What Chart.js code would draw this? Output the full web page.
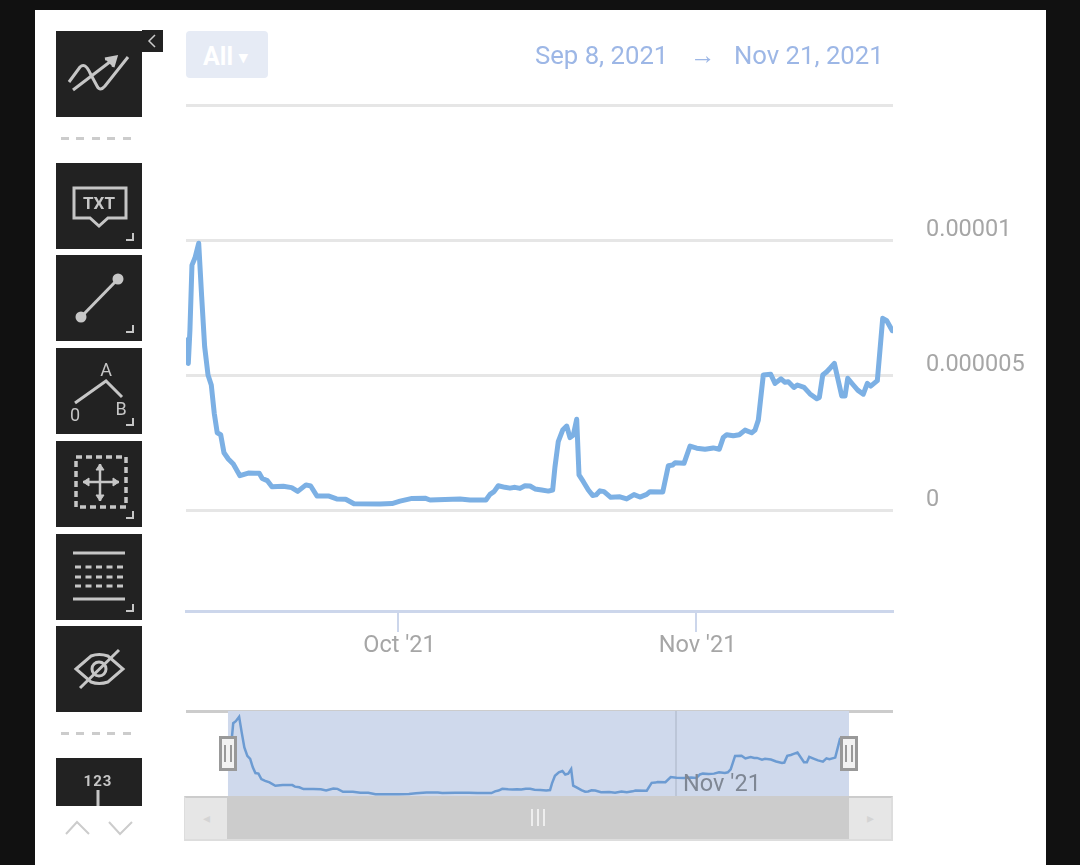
<!DOCTYPE html>
<html lang="en">
<head>
  <meta charset="UTF-8">
  <title>Price chart</title>
  <script src="https://cdn.jsdelivr.net/npm/chart.js"></script>
  <style>
    html, body { margin: 0; height: 865px; overflow: hidden; background: #111; font-family: Roboto, Arial, sans-serif; }
    #panel { position: absolute; left: 35px; top: 10px; width: 1011px; height: 855px; background: #fff; }
    canvas { position: absolute; left: 0; }
    #mainChart { top: 0; }
    #navChart { top: 700px; }
    .abs { position: absolute; }
    .tool { position: absolute; left: 56px; width: 86px; height: 86px; background: #222; display: block; }
    .tool * { fill: none; stroke: #c6c6c6; stroke-width: 3; }
    .tool text { fill: #c6c6c6; stroke: none; font-family: Roboto, Arial, sans-serif; text-anchor: middle; }
    .sep { position: absolute; left: 61px; width: 70px; height: 3px; background: repeating-linear-gradient(90deg, #ccc 0 8px, transparent 8px 15.4px); }
    #allBtn { left: 186px; top: 31px; width: 82px; height: 47px; background: #e6ebf5; border-radius: 4px; color: #fff; font-weight: 700; font-size: 25px; line-height: 52px; text-indent: 17px; }
    #allBtn span { font-size: 17px; vertical-align: 2px; }
    .dateTxt { top: 40px; color: #9db7e6; font-size: 25.7px; line-height: 30px; }
    .handle { top: 736px; width: 12px; height: 29px; background: #f2f2f2; border: 3px solid #999; }
    .handle i { position: absolute; top: 6px; width: 2px; height: 17px; background: #999; }
    #scrollTrack { left: 184px; top: 796px; width: 705px; height: 41px; background: #ccc; border: 2px solid #ddd; border-top-color: #ccc; }
    .scrollBtn { top: 798px; height: 41px; width: 42px; background: #e6e6e6; color: #d4d4d4; text-align: center; line-height: 41px; font-size: 14px; }
    .rifle { top: 809px; width: 2px; height: 17px; background: #eee; }
  </style>
</head>
<body>
  <div id="panel"></div>

  <canvas id="mainChart" width="1080" height="690"></canvas>
  <div class="abs" style="left:186px;top:710px;width:707px;height:3px;background:#ccc"></div>
  <canvas id="navChart" width="1080" height="110"></canvas>

  <!-- toolbar -->
  <svg class="tool" style="top:31px" viewBox="0 0 86 86">
    <path d="M13 51 L24 36 Q29 31 34 42 L41 55 Q44 61 49 55 L72 26"/><path d="M17 59 L59 27"/><path d="M49 28 L60 26 L57 36" style="fill:#c6c6c6"/>
  </svg>
  <div class="sep" style="top:137px"></div>
  <svg class="tool" style="top:163px" viewBox="0 0 86 86">
    <path d="M18 25 H70 V55 H52 L43 63 L34 55 H18 Z"/><text x="43" y="46" font-size="17" font-weight="700">TXT</text><path d="M70 77 H77 V70" style="stroke-width:2"/>
  </svg>
  <svg class="tool" style="top:255px" viewBox="0 0 86 86">
    <path d="M25 62 L62 24"/><circle cx="25" cy="62" r="4" style="fill:#c6c6c6"/><circle cx="62" cy="24" r="4" style="fill:#c6c6c6"/><path d="M70 77 H77 V70" style="stroke-width:2"/>
  </svg>
  <svg class="tool" style="top:348px" viewBox="0 0 86 86">
    <path d="M19 55 L50 33 L66 49"/><text x="50" y="28" font-size="18">A</text><text x="65" y="67" font-size="18">B</text><text x="19" y="73" font-size="18">0</text><path d="M70 77 H77 V70" style="stroke-width:2"/>
  </svg>
  <svg class="tool" style="top:441px" viewBox="0 0 86 86">
    <rect x="20" y="16" width="50" height="50" stroke-dasharray="6 4" style="stroke-width:3.5"/><path d="M27 41 H63 M44 23 V60" style="stroke-width:2.5"/><path d="M27 41 L33 37 V45 Z M63 41 L57 37 V45 Z M44 23 L40 29 H48 Z M44 60 L40 54 H48 Z" style="fill:#c6c6c6;stroke-width:1"/><path d="M70 77 H77 V70" style="stroke-width:2"/>
  </svg>
  <svg class="tool" style="top:534px" viewBox="0 0 86 86">
    <path d="M17 19 H69 M17 65 H69"/><path d="M19 33 H69 M19 43 H69 M19 52 H69" stroke-dasharray="6 4.5"/><path d="M70 77 H77 V70" style="stroke-width:2"/>
  </svg>
  <svg class="tool" style="top:626px" viewBox="0 0 86 86">
    <path d="M20 43 L35 30 Q43 27 52 30 L67 43 L52 56 Q43 59 35 56 Z"/><circle cx="43" cy="43" r="7"/><path d="M24 62 L63 24"/>
  </svg>
  <div class="sep" style="top:732px"></div>
  <svg class="tool" style="top:758px;height:48px" viewBox="0 0 86 48">
    <text x="42" y="28" font-size="15" font-weight="700" letter-spacing="1">123</text><path d="M42 32 V48"/>
  </svg>
  <div class="abs" style="left:142px;top:30px;width:21px;height:22px;background:#222">
    <svg width="21" height="22" viewBox="0 0 21 22"><path d="M13 5 L7 11 L13 17" fill="none" stroke="#ccc" stroke-width="1.5"/></svg>
  </div>
  <svg class="abs" style="left:60px;top:815px" width="76" height="26" viewBox="0 0 76 26">
    <path d="M6 19 L17 7 L29 19 M49 7 L60 19 L72 7" fill="none" stroke="#ccc" stroke-width="2"/>
  </svg>

  <!-- header -->
  <div class="abs" id="allBtn">All <span>&#9662;</span></div>
  <div class="abs dateTxt" style="left:535px">Sep 8, 2021</div>
  <div class="abs dateTxt" style="left:690px">&#8594;</div>
  <div class="abs dateTxt" style="left:734px">Nov 21, 2021</div>

  <!-- navigator handles and scrollbar -->
  <div class="abs" id="scrollTrack"></div>
  <div class="abs scrollBtn" style="left:185px">&#9666;</div>
  <div class="abs scrollBtn" style="left:849px">&#9656;</div>
  <div class="abs rifle" style="left:531px"></div>
  <div class="abs rifle" style="left:537px"></div>
  <div class="abs rifle" style="left:543px"></div>
  <div class="abs handle" style="left:219px"><i style="left:2px"></i><i style="left:8px"></i></div>
  <div class="abs handle" style="left:840px"><i style="left:2px"></i><i style="left:8px"></i></div>

  <script>
    // days since Sep 8 2021
    const days = [1.02, 1.19, 1.36, 1.57, 1.88, 2.27, 2.58, 2.89, 3.24, 3.58, 3.89, 4.20, 4.56, 4.90, 5.35, 5.87, 6.56, 7.43, 8.12, 8.57, 8.88, 9.40, 9.89, 11.07, 11.94, 12.57, 13.43, 13.92, 14.57, 15.75, 16.62, 17.56, 18.42, 21.13, 22.38, 23.21, 24.46, 25.81, 26.33, 27.89, 29.45, 30.49, 31.53, 32.15, 32.57, 32.99, 33.43, 34.13, 34.65, 35.17, 35.69, 36.21, 36.73, 37.25, 37.95, 38.64, 39.09, 39.33, 39.67, 40.13, 40.55, 40.89, 41.24, 41.59, 41.83, 42.28, 42.80, 43.25, 43.60, 44.01, 44.43, 45.13, 46.09, 46.79, 47.55, 48.17, 48.87, 49.21, 50.54, 51.12, 51.58, 51.82, 52.75, 53.38, 54.07, 54.94, 55.80, 56.42, 56.84, 57.19, 57.88, 58.50, 59.10, 59.79, 60.14, 60.48, 61.00, 61.77, 62.22, 62.84, 63.26, 63.60, 64.19, 64.54, 65.24, 65.86, 66.56, 66.83, 67.18, 67.60, 67.94, 68.39, 69.16, 69.50, 69.78, 70.36, 70.82, 71.40, 71.82, 72.17, 72.86, 73.42, 73.84, 74.42];
    // price, in millionths
    const priceMicro = [6.30, 5.43, 6.67, 9.07, 9.33, 9.88, 7.90, 6.05, 5.00, 4.63, 3.58, 2.86, 2.79, 2.12, 1.89, 1.70, 1.27, 1.37, 1.36, 1.36, 1.17, 1.09, 0.86, 0.88, 0.83, 0.69, 0.93, 0.89, 0.52, 0.52, 0.41, 0.40, 0.23, 0.22, 0.24, 0.33, 0.43, 0.44, 0.37, 0.39, 0.41, 0.37, 0.37, 0.37, 0.58, 0.68, 0.90, 0.84, 0.81, 0.84, 0.80, 0.90, 0.89, 0.78, 0.74, 0.70, 0.74, 1.60, 2.53, 2.96, 3.11, 2.68, 2.78, 3.36, 1.30, 1.05, 0.74, 0.54, 0.56, 0.71, 0.68, 0.47, 0.49, 0.41, 0.57, 0.48, 0.58, 0.68, 0.67, 1.64, 1.67, 1.75, 1.73, 2.37, 2.29, 2.25, 2.30, 2.25, 2.69, 2.79, 2.75, 2.79, 2.96, 2.86, 2.96, 3.33, 5.00, 5.03, 4.69, 4.86, 4.73, 4.75, 4.54, 4.63, 4.54, 4.30, 4.12, 4.17, 5.00, 5.12, 5.25, 5.43, 4.22, 4.22, 4.88, 4.63, 4.44, 4.29, 4.69, 4.59, 4.79, 7.10, 7.01, 6.64];
    const xTickDays = [23, 54];
    const xTickLabels = ["Oct '21", "Nov '21"];
    const yTickValues = [0, 0.000005, 0.00001, 0.000015];
    const yTickLabels = ['0', '0.000005', '0.00001', ''];
    const navTickDays = [54];
    const navTickLabels = ["Nov '21"];
    const rangeDays = [0.95, 74.49];

    const points = days.map((d, i) => ({ x: d, y: priceMicro[i] * 1e-6 }));
    const tickFont = { family: 'Roboto', size: 23.5 };

    Chart.defaults.font.family = 'Roboto';

    new Chart(document.getElementById('mainChart'), {
      type: 'line',
      data: {
        datasets: [{
          data: points, borderColor: '#7cb0e4', borderWidth: 5, pointRadius: 0,
          tension: 0, borderJoinStyle: 'round', borderCapStyle: 'round'
        }]
      },
      options: {
        responsive: false, animation: false, devicePixelRatio: 1,
        layout: { padding: { left: 186, top: 105, right: 0, bottom: 0 } },
        plugins: { legend: { display: false }, tooltip: { enabled: false } },
        scales: {
          x: {
            type: 'linear', min: rangeDays[0], max: rangeDays[1],
            afterBuildTicks: s => { s.ticks = xTickDays.map(v => ({ value: v })); },
            afterFit: s => { s.height = 79; },
            border: { color: '#ccd6eb', width: 3 },
            grid: { drawOnChartArea: false, color: '#ccd6eb', lineWidth: 2, tickLength: 21 },
            ticks: {
              autoSkip: false, maxRotation: 0, padding: 0, labelOffset: 1.5, color: '#a6a6a6', font: tickFont,
              callback: (v, i) => xTickLabels[i]
            }
          },
          y: {
            position: 'right', min: -0.00000374, max: 0.000015,
            afterBuildTicks: s => { s.ticks = yTickValues.map(v => ({ value: v })); },
            afterFit: s => { s.width = 187; },
            border: { display: false },
            grid: { color: '#e6e6e6', lineWidth: 3, drawTicks: false },
            ticks: {
              crossAlign: 'near', padding: 33, labelOffset: -10, color: '#a6a6a6', font: tickFont,
              callback: (v, i) => yTickLabels[i]
            }
          }
        }
      }
    });

    // selected range band behind the navigator line
    const bandPlugin = {
      id: 'band',
      beforeDraw(chart) {
        const { ctx, chartArea, scales } = chart;
        const x0 = scales.x.getPixelForValue(rangeDays[0]);
        const x1 = scales.x.getPixelForValue(rangeDays[1]);
        ctx.save();
        ctx.fillStyle = '#cfd9ec';
        ctx.fillRect(x0, chartArea.top, x1 - x0, chartArea.bottom - chartArea.top);
        ctx.restore();
      }
    };

    new Chart(document.getElementById('navChart'), {
      type: 'line',
      data: {
        datasets: [{
          data: points, borderColor: '#6c9bd2', borderWidth: 2.5, pointRadius: 0, tension: 0
        }]
      },
      options: {
        responsive: false, animation: false, devicePixelRatio: 1,
        layout: { padding: { left: 186, top: 11, right: 187, bottom: 0 } },
        plugins: { legend: { display: false }, tooltip: { enabled: false } },
        scales: {
          x: {
            type: 'linear', min: -4.02, max: 79.7,
            afterBuildTicks: s => { s.ticks = navTickDays.map(v => ({ value: v })); },
            afterFit: s => { s.height = 14; },
            border: { display: false },
            grid: { color: '#bcc6d8', lineWidth: 2, drawTicks: false },
            ticks: {
              // mirror keeps the label from being clipped to the axis box
              mirror: true, autoSkip: false, maxRotation: 0, padding: -3, labelOffset: 46, z: 1,
              color: '#7f8794', font: tickFont,
              callback: (v, i) => navTickLabels[i]
            }
          },
          y: { display: false, min: 0, max: 0.0000106 }
        }
      },
      plugins: [bandPlugin]
    });
  </script>
</body>
</html>
